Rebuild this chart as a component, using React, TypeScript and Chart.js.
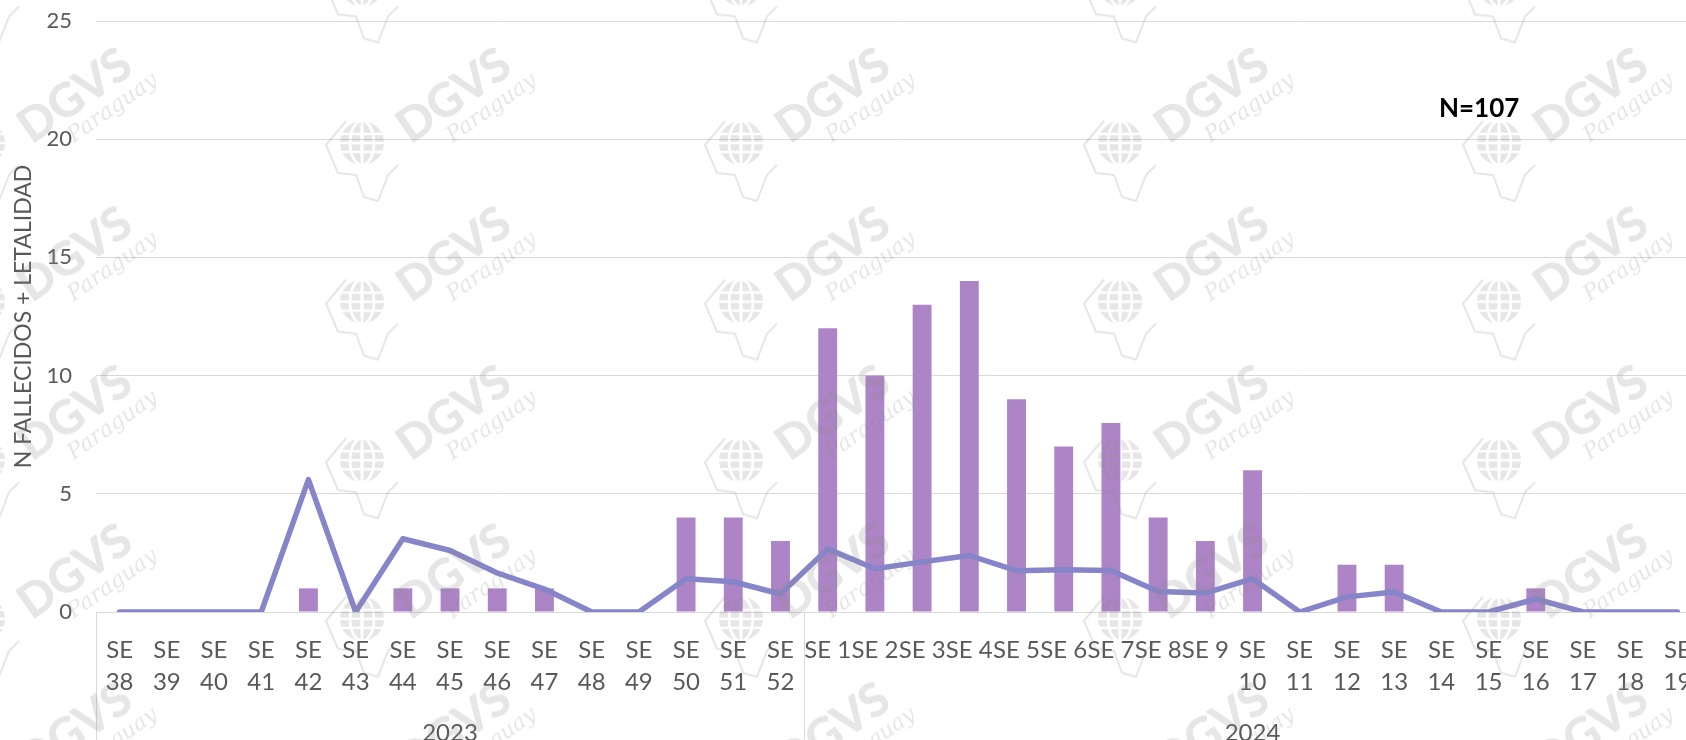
import React, { useEffect, useRef } from "react";
import { Chart, registerables } from "chart.js";

Chart.register(...registerables);

// ---- data ----
const weeks2023 = ["SE 38", "SE 39", "SE 40", "SE 41", "SE 42", "SE 43", "SE 44", "SE 45", "SE 46", "SE 47", "SE 48", "SE 49", "SE 50", "SE 51", "SE 52"];
const weeks2024 = ["SE 1", "SE 2", "SE 3", "SE 4", "SE 5", "SE 6", "SE 7", "SE 8", "SE 9", "SE 10", "SE 11", "SE 12", "SE 13", "SE 14", "SE 15", "SE 16", "SE 17", "SE 18", "SE 19"];
const categories = [...weeks2023, ...weeks2024];

const fallecidos = [0, 0, 0, 0, 1, 0, 1, 1, 1, 1, 0, 0, 4, 4, 3, 12, 10, 13, 14, 9, 7, 8, 4, 3, 6, 0, 2, 2, 0, 0, 1, 0, 0, 0];
const letalidad = [0, 0, 0, 0, 5.6, 0, 3.1, 2.6, 1.65, 0.97, 0, 0, 1.41, 1.28, 0.76, 2.67, 1.83, 2.12, 2.39, 1.75, 1.79, 1.76, 0.87, 0.8, 1.41, 0, 0.64, 0.85, 0, 0, 0.55, 0, 0, 0];

const yearLabels = ["2023", "2024"];
const yearSpans = [weeks2023.length, weeks2024.length];

const yAxisTitle = "N FALLECIDOS + LETALIDAD";
const totalLabel = "N=107";
const yMin = 0;
const yMax = 25;
const yStep = 5;

const watermarkTitle = "DGVS";
const watermarkSub = "Paraguay";

// ---- styles ----
const FONT = "Lato";
const TEXT = "#595959";
const GRID = "#d9d9d9";
const BAR = "#ad84c6";
const LINE = "#8685c9";

const CANVAS_W = 1720;
const CANVAS_H = 780;

const yearGroupsPlugin = {
  id: "yearGroups",
  afterDraw(chart: any) {
    const { ctx, chartArea } = chart;
    const x = chart.scales.x;
    const step = x.getPixelForValue(1) - x.getPixelForValue(0);
    ctx.save();
    ctx.strokeStyle = GRID;
    ctx.lineWidth = 1;
    ctx.fillStyle = TEXT;
    ctx.font = `24px ${FONT}`;
    ctx.textAlign = "center";
    ctx.textBaseline = "alphabetic";
    let start = 0;
    yearSpans.forEach((n, i) => {
      const left = x.getPixelForValue(start) - step / 2;
      const right = x.getPixelForValue(start + n - 1) + step / 2;
      const xs = i === yearSpans.length - 1 ? [left, right] : [left];
      xs.forEach((px) => {
        const p = Math.round(px) + 0.5;
        ctx.beginPath();
        ctx.moveTo(p, chartArea.bottom);
        ctx.lineTo(p, chart.height);
        ctx.stroke();
      });
      ctx.fillText(yearLabels[i], (left + right) / 2, 741);
      start += n;
    });
    // total annotation
    const y = chart.scales.y;
    ctx.fillStyle = "#000000";
    ctx.font = `bold 26px ${FONT}`;
    ctx.textBaseline = "middle";
    const ax = x.getPixelForValue(28) + 0.8 * step;
    ctx.fillText(totalLabel, ax, y.getPixelForValue(21.3));
    ctx.restore();
  },
};

function makeWatermarkTile(): HTMLCanvasElement {
  const tile = document.createElement("canvas");
  tile.width = 240;
  tile.height = 200;
  const t = tile.getContext("2d") as CanvasRenderingContext2D;
  const cx = 140;
  const cy = 80;
  const gx = cx - 92;
  const gy = cy + 47;
  t.fillStyle = "#8c8c8c";
  t.strokeStyle = "#8c8c8c";
  // globe
  t.beginPath();
  t.arc(gx, gy, 22, 0, Math.PI * 2);
  t.fill();
  t.globalCompositeOperation = "destination-out";
  t.lineWidth = 2.5;
  for (let k = -1; k <= 1; k++) {
    t.beginPath();
    t.ellipse(gx, gy, k === 0 ? 0.5 : 12, 22, 0, 0, Math.PI * 2);
    t.stroke();
    t.beginPath();
    t.moveTo(gx - 22, gy + k * 9);
    t.lineTo(gx + 22, gy + k * 9);
    t.stroke();
  }
  t.globalCompositeOperation = "source-over";
  // map outline
  t.lineWidth = 2;
  t.lineJoin = "round";
  t.beginPath();
  t.moveTo(gx - 16, gy - 22);
  t.lineTo(gx - 36, gy + 2);
  t.lineTo(gx - 24, gy + 30);
  t.lineTo(gx - 6, gy + 32);
  t.lineTo(gx + 2, gy + 54);
  t.lineTo(gx + 16, gy + 58);
  t.lineTo(gx + 26, gy + 32);
  t.lineTo(gx + 36, gy + 22);
  t.stroke();
  // text
  t.translate(cx, cy);
  t.rotate((-35 * Math.PI) / 180);
  t.textAlign = "center";
  t.textBaseline = "middle";
  t.font = `900 47px ${FONT}`;
  t.fillText(watermarkTitle, 0, 0);
  t.font = `italic 22px "DejaVu Serif"`;
  t.fillText(watermarkSub, 24, 32);
  return tile;
}

const watermarkPlugin = {
  id: "watermark",
  afterDraw(chart: any) {
    const ctx = chart.ctx;
    const tile = makeWatermarkTile();
    ctx.save();
    ctx.globalAlpha = 0.22;
    const colStep = 379;
    const rowStep = 158.6;
    for (let r = -1; r < 6; r++) {
      for (let c = 0; c < 5; c++) {
        const cx = 75 + c * colStep;
        const cy = 96 + r * rowStep;
        ctx.drawImage(tile, cx - 140, cy - 80);
      }
    }
    ctx.restore();
  },
};

export default function App() {
  const ref = useRef<HTMLCanvasElement | null>(null);

  useEffect(() => {
    document.body.style.margin = "0";
    document.body.style.overflow = "hidden";
    const canvas = ref.current;
    if (!canvas) return;
    const chart = new Chart(canvas, {
      type: "bar",
      data: {
        labels: categories,
        datasets: [
          {
            type: "line",
            label: "Letalidad",
            data: letalidad,
            borderColor: LINE,
            backgroundColor: LINE,
            borderWidth: 5.5,
            pointRadius: 0,
            tension: 0,
            borderJoinStyle: "round",
            borderCapStyle: "round",
            order: 0,
          } as any,
          {
            type: "bar",
            label: "Fallecidos",
            data: fallecidos,
            backgroundColor: BAR,
            borderWidth: 0,
            categoryPercentage: 1,
            barPercentage: 0.4,
            order: 1,
          } as any,
        ],
      },
      options: {
        responsive: false,
        animation: false,
        layout: { padding: { top: 21, right: 19, left: 0, bottom: 0 } },
        plugins: {
          legend: { display: false },
          tooltip: { enabled: false },
        },
        scales: {
          x: {
            grid: { display: false, drawTicks: false },
            border: { display: true, color: GRID, width: 1 },
            ticks: {
              color: TEXT,
              font: { family: FONT, size: 24, lineHeight: 1.33 },
              padding: 22,
              maxRotation: 0,
              minRotation: 0,
              autoSkip: false,
              callback: function (this: any, value: any) {
                const label = String(this.getLabelForValue(value));
                const parts = label.split(" ");
                return parts[1].length > 1 ? parts : label;
              },
            },
            afterFit: (scale: any) => {
              scale.height = CANVAS_H - 612;
            },
          },
          y: {
            min: yMin,
            max: yMax,
            ticks: {
              stepSize: yStep,
              color: TEXT,
              font: { family: FONT, size: 22 },
              padding: 24,
            },
            grid: { color: GRID, lineWidth: 1, drawTicks: false },
            border: { display: false },
            title: {
              display: true,
              text: yAxisTitle,
              color: TEXT,
              font: { family: FONT, size: 23, weight: "normal" },
              padding: { top: 10, bottom: 0 },
            },
            afterFit: (scale: any) => {
              scale.width = 96;
              scale.paddingTop = 0;
              scale.paddingBottom = 0;
            },
          },
        },
      },
      plugins: [yearGroupsPlugin, watermarkPlugin],
    });
    return () => chart.destroy();
  }, []);

  return (
    <div
      style={{
        position: "fixed",
        left: 0,
        top: 0,
        width: CANVAS_W,
        height: CANVAS_H,
        background: "#ffffff",
        overflow: "hidden",
      }}
    >
      <canvas ref={ref} width={CANVAS_W} height={CANVAS_H} style={{ width: CANVAS_W, height: CANVAS_H }} />
    </div>
  );
}
